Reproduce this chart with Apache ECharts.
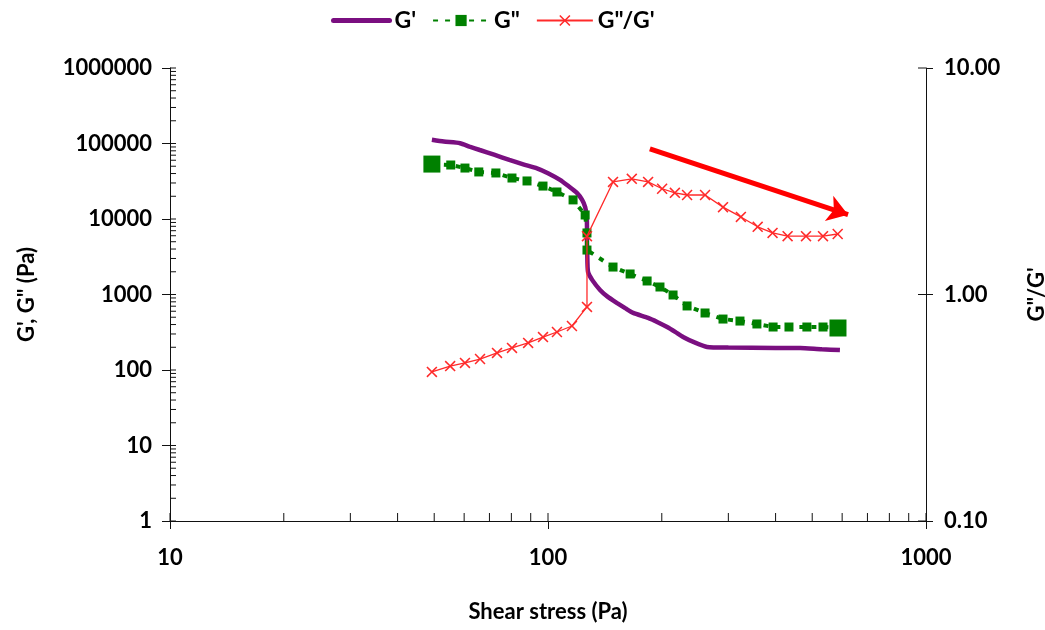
<!DOCTYPE html>
<html><head><meta charset="utf-8">
<script src="https://cdn.jsdelivr.net/npm/echarts@6/dist/echarts.min.js"></script>
<style>html,body{margin:0;padding:0;background:#fff}#c{width:1045px;height:630px}</style>
</head><body><div id="c"></div>
<script>
// G' (storage modulus) — continuous line
const gpStress = [49.3,53,58.5,62,66,72,79,86,93.5,100,107.6,113,119.4,123,125.4,126.5,126.8,126.8,127,127.6,131,137.3,144,152.4,160,168,184,195,206.6,217,227.7,245,263.6,300,400,465,530,592];
const gpModulus = [112000,106000,101000,91000,82000,71000,60500,53000,47000,40500,33000,27500,22000,18000,14400,11000,8000,5000,3500,2000,1550,1150,930,770,660,570,490,430,371,320,274,230,202,198,196,195,188,184];
// G'' (loss modulus) — dashed line with square markers
const gppStress = [49.3,55.3,60.3,65.6,72.8,80.3,88.0,97.0,105.6,116.5,125.4,126.8,126.8,148.6,164.9,182.9,197.8,214.2,233.3,260.3,290.4,322,357,394,434,484,534,585];
const gppModulus = [53400,51900,47300,42000,40700,34900,31900,27300,22800,17900,11300,6530,3880,2310,1870,1510,1257,985,705,569,473,445,407,371,371,371,371,360];
// G''/G' (loss tangent) — right axis
const ratioStress = [49.3,55.1,60.3,66.1,73.3,80.3,88.6,97.0,105.6,115.7,126.8,126.8,148.6,166.6,184,200.4,216.6,233.3,260.3,290.4,323.8,358.7,392.7,430.4,481.5,534,584];
const ratioValue = [0.455,0.483,0.499,0.519,0.552,0.581,0.611,0.649,0.683,0.726,0.881,1.81,3.14,3.24,3.14,2.93,2.81,2.75,2.75,2.43,2.20,1.99,1.87,1.81,1.81,1.81,1.85];
// trend arrow (data coords on the right axis)
const arrowStart = [186, 4.39];
const arrowEnd = [622, 2.25];
// tick values
const xTickValues = [10,20,30,40,50,60,70,80,90,100,200,300,400,500,600,700,800,900,1000];
const yMinorValues = [];
[1,10,100,1000,10000,100000].forEach(d => { for (let k = 2; k <= 9; k++) yMinorValues.push(d * k); });
const yLeftMajor = [1,10,100,1000,10000,100000,1000000];
const yRightMajor = [0.1,1,10];

const FONT = 'Lato';
const PURPLE = '#7A0F80', GREEN = '#008000', RED = '#FF2A2A';
const chart = echarts.init(document.getElementById('c'));
const zip = (a, b) => a.map((v, i) => [v, b[i]]);
const lineTick = (x1, y1, x2, y2) => ({type:'line', shape:{x1,y1,x2,y2}, style:{stroke:'#111', lineWidth:1}, silent:true});

chart.setOption({
  animation: false,
  backgroundColor: '#fff',
  grid: {left: 170, right: 119, top: 68, bottom: 109, outerBoundsMode: 'none'},
  legend: {
    left: 326, top: 4, itemWidth: 56, itemHeight: 14, itemGap: 16,
    data: [
      {name: "G'", itemStyle: {opacity: 0}, lineStyle: {width: 5, cap: 'round'}},
      {name: 'G"'},
      {name: 'G"/G\''}
    ],
    textStyle: {fontFamily: FONT, fontWeight: 'bold', fontSize: 23, color: '#000'}
  },
  xAxis: {
    type: 'log', logBase: 10, min: 10, max: 1000,
    name: 'Shear stress (Pa)', nameLocation: 'middle', nameGap: 80,
    nameTextStyle: {fontFamily: FONT, fontWeight: 'bold', fontSize: 22, color: '#000'},
    axisLine: {show: true, onZero: false, lineStyle: {color: '#111', width: 1}},
    axisTick: {show: true, length: 8, lineStyle: {color: '#111'}},
    axisLabel: {fontFamily: FONT, fontWeight: 'bold', fontSize: 22, color: '#000', margin: 26, formatter: v => String(Math.round(v))},
    splitLine: {show: false}, minorTick: {show: false}
  },
  yAxis: [{
    type: 'log', logBase: 10, min: 1, max: 1000000, position: 'left',
    name: 'G\', G" (Pa)', nameLocation: 'middle', nameGap: 132, nameRotate: 90,
    nameTextStyle: {fontFamily: FONT, fontWeight: 'bold', fontSize: 22, color: '#000'},
    axisLine: {show: true, onZero: false, lineStyle: {color: '#111', width: 1}},
    axisTick: {show: true, length: 8, lineStyle: {color: '#111'}},
    axisLabel: {fontFamily: FONT, fontWeight: 'bold', fontSize: 22, color: '#000', margin: 18, formatter: v => String(Math.round(v))},
    splitLine: {show: false}
  }, {
    type: 'log', logBase: 10, min: 0.1, max: 10, position: 'right',
    name: 'G"/G\'', nameLocation: 'middle', nameGap: 100, nameRotate: 90,
    nameTextStyle: {fontFamily: FONT, fontWeight: 'bold', fontSize: 22, color: '#000'},
    axisLine: {show: true, onZero: false, lineStyle: {color: '#111', width: 1}},
    axisTick: {show: true, length: 7, lineStyle: {color: '#111'}},
    axisLabel: {fontFamily: FONT, fontWeight: 'bold', fontSize: 22, color: '#000', margin: 18, formatter: v => v.toFixed(2)},
    splitLine: {show: false}
  }],
  series: [{
    name: "G'", type: 'line', xAxisIndex: 0, yAxisIndex: 0,
    data: zip(gpStress, gpModulus), showSymbol: false, symbol: 'none', smooth: 0.2,
    lineStyle: {color: PURPLE, width: 4.5}, itemStyle: {color: PURPLE}, z: 3
  }, {
    name: 'G"', type: 'line', xAxisIndex: 0, yAxisIndex: 0,
    data: zip(gppStress, gppModulus), symbol: 'rect',
    symbolSize: (v, p) => (p.dataIndex === 0 || p.dataIndex === gppStress.length - 1) ? 17 : 9,
    lineStyle: {color: GREEN, width: 4, type: [5, 7]}, itemStyle: {color: GREEN}, z: 4
  }, {
    name: 'G"/G\'', type: 'line', xAxisIndex: 0, yAxisIndex: 1,
    data: zip(ratioStress, ratioValue),
    symbol: 'path://M0,1L1,0L5,4L9,0L10,1L6,5L10,9L9,10L5,6L1,10L0,9L4,5Z', symbolSize: 11,
    lineStyle: {color: RED, width: 1.3}, itemStyle: {color: RED}, z: 5,
    markLine: {
      silent: true, symbol: ['none', 'arrow'], symbolSize: 20,
      label: {show: false},
      lineStyle: {color: '#FF0000', width: 5, type: 'solid'},
      data: [[{coord: arrowStart}, {coord: arrowEnd}]]
    }
  }, {
    type: 'custom', xAxisIndex: 0, yAxisIndex: 0, silent: true, clip: false,
    data: xTickValues.map(v => [v, 1]),
    renderItem: (params, api) => { const p = api.coord([api.value(0), 1]); return lineTick(p[0], p[1], p[0], p[1] - 8); }
  }, {
    type: 'custom', xAxisIndex: 0, yAxisIndex: 0, silent: true, clip: false,
    data: yMinorValues.concat(yLeftMajor).map(v => [10, v]),
    renderItem: (params, api) => { const p = api.coord([10, api.value(1)]); return lineTick(p[0], p[1], p[0] + 6, p[1]); }
  }, {
    type: 'custom', xAxisIndex: 0, yAxisIndex: 1, silent: true, clip: false,
    data: yRightMajor.map(v => [1000, v]),
    renderItem: (params, api) => { const p = api.coord([1000, api.value(1)]); return lineTick(p[0], p[1], p[0] - 8, p[1]); }
  }]
});
</script></body></html>
